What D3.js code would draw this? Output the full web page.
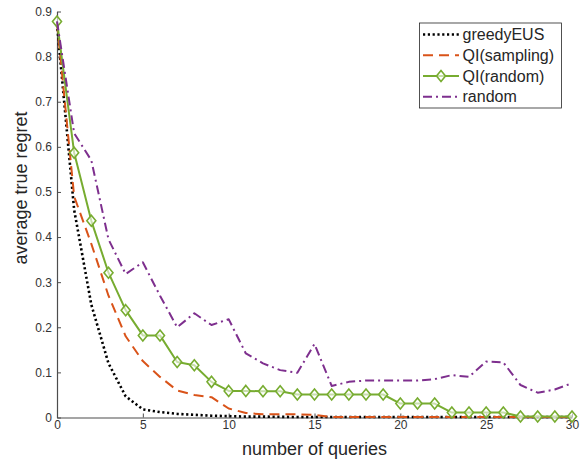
<!DOCTYPE html>
<html>
<head>
<meta charset="utf-8">
<script src="https://cdn.jsdelivr.net/npm/d3@7/dist/d3.min.js"></script>
<style>
  html, body { margin: 0; padding: 0; background: #fff; }
  svg { display: block; }
  text { font-family: "Liberation Sans", Arial, Helvetica, sans-serif; }
</style>
</head>
<body>
<svg id="chart" width="585" height="466"></svg>
<script>
// Number of queries asked (x) and average true regret per method
const queries = d3.range(0, 31);

const greedyEUS = [0.872, 0.46, 0.25, 0.12, 0.047, 0.018, 0.012, 0.008, 0.006, 0.004, 0.003,
  0.002, 0.002, 0.0015, 0.001, 0.001, 0.001, 0.001, 0.001, 0.001, 0.001,
  0.001, 0.001, 0.001, 0.001, 0.001, 0.001, 0.001, 0.001, 0.001, 0.001];

const qiSampling = [0.875, 0.49, 0.385, 0.27, 0.18, 0.125, 0.09, 0.06, 0.05, 0.045, 0.02,
  0.01, 0.007, 0.007, 0.007, 0.006, 0.001, 0.001, 0.001, 0.001, 0.001,
  0.001, 0.001, 0.001, 0.001, 0.001, 0.001, 0.001, 0.001, 0.001, 0.001];

const qiRandom = [0.878, 0.587, 0.436, 0.321, 0.238, 0.182, 0.182, 0.123, 0.116, 0.079, 0.059,
  0.059, 0.058, 0.058, 0.051, 0.051, 0.051, 0.051, 0.051, 0.051, 0.031,
  0.031, 0.031, 0.011, 0.011, 0.011, 0.011, 0.002, 0.002, 0.002, 0.002];

const randomQ = [0.878, 0.63, 0.57, 0.395, 0.318, 0.344, 0.27, 0.2, 0.231, 0.205, 0.218,
  0.142, 0.12, 0.105, 0.099, 0.163, 0.07, 0.079, 0.082, 0.082, 0.082,
  0.082, 0.085, 0.094, 0.09, 0.124, 0.122, 0.072, 0.055, 0.062, 0.076];

const seriesNames = ["greedyEUS", "QI(sampling)", "QI(random)", "random"];
const xTicks = [0, 5, 10, 15, 20, 25, 30];
const yTicks = [0, 0.1, 0.2, 0.3, 0.4, 0.5, 0.6, 0.7, 0.8, 0.9];

const svg = d3.select("#chart");

const x = d3.scaleLinear().domain([0, 30]).range([57, 572]);
const y = d3.scaleLinear().domain([0, 0.9]).range([417.5, 11.5]);

const axisColor = "#4d4d4d";
const textColor = "#333333";

// Axes: left and bottom only, ticks pointing inward
const gx = svg.append("g")
  .attr("transform", `translate(0,${y(0)})`)
  .call(d3.axisBottom(x).tickValues(xTicks).tickFormat(d3.format("d"))
    .tickSizeInner(-4).tickSizeOuter(0).tickPadding(3));
const gy = svg.append("g")
  .attr("transform", `translate(${x(0)},0)`)
  .call(d3.axisLeft(y).tickValues(yTicks).tickFormat(d => d === 0 ? "0" : d3.format(".1f")(d))
    .tickSizeInner(-4).tickSizeOuter(0).tickPadding(5));

[gx, gy].forEach(g => {
  g.select(".domain").attr("stroke", axisColor).attr("stroke-width", 1.2);
  g.selectAll(".tick line").attr("stroke", axisColor).attr("stroke-width", 1);
  g.selectAll(".tick text").attr("fill", textColor).style("font-size", "12px");
});

// Axis titles
svg.append("text")
  .attr("x", (x(0) + x(30)) / 2)
  .attr("y", 455)
  .attr("text-anchor", "middle")
  .attr("fill", "#262626")
  .style("font-size", "18px")
  .text("number of queries");

svg.append("text")
  .attr("transform", `translate(27,${188}) rotate(-90)`)
  .attr("text-anchor", "middle")
  .attr("fill", "#262626")
  .style("font-size", "18px")
  .text("average true regret");

// Series styling
const styles = [
  { values: greedyEUS, color: "#000000", width: 2.6, dash: "2.2,2.6" },
  { values: qiSampling, color: "#D95319", width: 2, dash: "10,6" },
  { values: qiRandom, color: "#77AC30", width: 2, dash: null, marker: true },
  { values: randomQ, color: "#7E2F8E", width: 2, dash: "9,4,2,4" }
];

const line = d3.line()
  .x((d, i) => x(queries[i]))
  .y(d => y(d));

const diamond = (cx, cy) => `M${cx},${cy - 5.5}L${cx + 4.5},${cy}L${cx},${cy + 5.5}L${cx - 4.5},${cy}Z`;

styles.forEach(s => {
  svg.append("path")
    .datum(s.values)
    .attr("d", line)
    .attr("fill", "none")
    .attr("stroke", s.color)
    .attr("stroke-width", s.width)
    .attr("stroke-dasharray", s.dash)
    .attr("stroke-linejoin", "round");
  if (s.marker) {
    svg.append("g").selectAll("path")
      .data(s.values)
      .join("path")
      .attr("d", (d, i) => diamond(x(queries[i]), y(d)))
      .attr("fill", "#ffffff")
      .attr("fill-opacity", 0.6)
      .attr("stroke", s.color)
      .attr("stroke-width", 1.6);
  }
});

// Legend
const legend = svg.append("g");
legend.append("rect")
  .attr("x", 419.5).attr("y", 23)
  .attr("width", 142).attr("height", 85)
  .attr("fill", "#ffffff")
  .attr("stroke", "#262626")
  .attr("stroke-width", 0.8);

const rowY = [34.5, 55.3, 76, 96.7];
styles.forEach((s, i) => {
  const yy = rowY[i];
  legend.append("line")
    .attr("x1", 423).attr("x2", 459)
    .attr("y1", yy).attr("y2", yy)
    .attr("stroke", s.color)
    .attr("stroke-width", s.width)
    .attr("stroke-dasharray", s.dash);
  if (s.marker) {
    legend.append("path")
      .attr("d", diamond(441, yy))
      .attr("fill", "#ffffff")
      .attr("fill-opacity", 0.6)
      .attr("stroke", s.color)
      .attr("stroke-width", 1.6);
  }
  legend.append("text")
    .attr("x", 462.5)
    .attr("y", yy)
    .attr("dy", "0.36em")
    .attr("fill", "#262626")
    .style("font-size", "16px")
    .text(seriesNames[i]);
});
</script>
</body>
</html>
